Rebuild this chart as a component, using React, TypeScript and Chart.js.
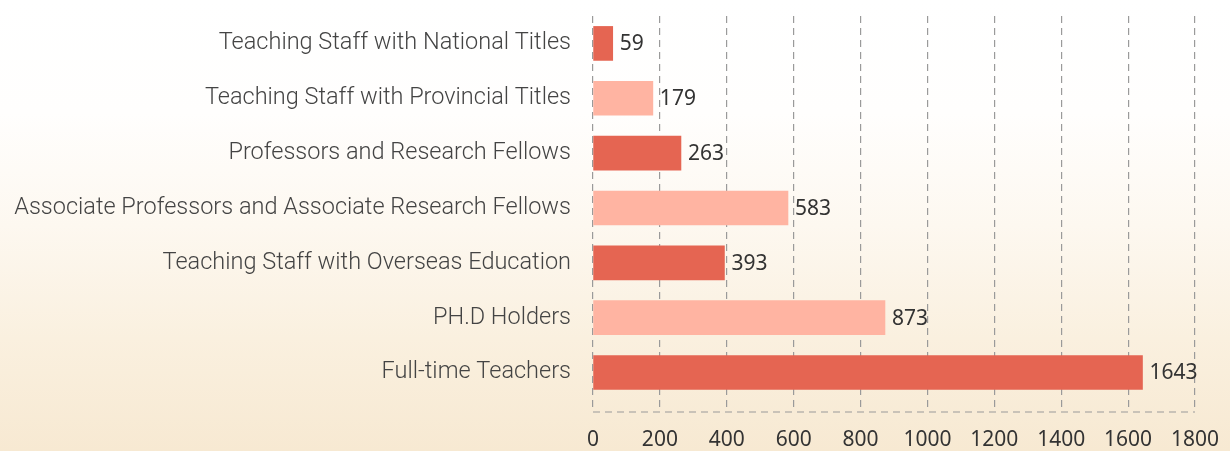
import React, { useEffect, useRef } from "react";
import { Chart, registerables } from "chart.js";

Chart.register(...registerables);

const categories = [
  "Teaching Staff with National Titles",
  "Teaching Staff with Provincial Titles",
  "Professors and Research Fellows",
  "Associate Professors and Associate Research Fellows",
  "Teaching Staff with Overseas Education",
  "PH.D Holders",
  "Full-time Teachers",
];
const values = [59, 179, 263, 583, 393, 873, 1643];
const barColors = ["#E56552", "#FFB4A2", "#E56552", "#FFB4A2", "#E56552", "#FFB4A2", "#E56552"];
const xTicks = [0, 200, 400, 600, 800, 1000, 1200, 1400, 1600, 1800];

const GRID_COLOR = "#9a9a9a";
const DASH = [7, 5];

const valueLabels = {
  id: "valueLabels",
  afterDatasetsDraw(chart: any) {
    const ctx = chart.ctx;
    const meta = chart.getDatasetMeta(0);
    ctx.save();
    ctx.font = "21px 'Noto Sans', 'DejaVu Sans', sans-serif";
    ctx.fillStyle = "#333333";
    ctx.textBaseline = "middle";
    ctx.textAlign = "left";
    meta.data.forEach((el: any, i: number) => {
      ctx.fillText(String(values[i]), el.x + 7, el.y + 1);
    });
    ctx.restore();
  },
};

const dashedBottom = {
  id: "dashedBottom",
  beforeDatasetsDraw(chart: any) {
    const { ctx, chartArea } = chart;
    ctx.save();
    ctx.strokeStyle = GRID_COLOR;
    ctx.lineWidth = 1.2;
    ctx.setLineDash(DASH);
    ctx.beginPath();
    ctx.moveTo(chartArea.left, chartArea.bottom);
    ctx.lineTo(chartArea.right, chartArea.bottom);
    ctx.stroke();
    ctx.restore();
  },
};

export default function App() {
  const ref = useRef<HTMLCanvasElement | null>(null);
  useEffect(() => {
    document.body.style.margin = "0";
    const chart = new Chart(ref.current as HTMLCanvasElement, {
      type: "bar",
      data: {
        labels: categories,
        datasets: [
          {
            data: values,
            backgroundColor: barColors,
            barThickness: 34,
            borderWidth: 0,
          },
        ],
      },
      plugins: [valueLabels, dashedBottom],
      options: {
        indexAxis: "y",
        animation: false,
        responsive: false,
        maintainAspectRatio: false,
        layout: { padding: { top: 16, right: 35, left: 0, bottom: 0 } },
        plugins: { legend: { display: false }, tooltip: { enabled: false } },
        scales: {
          x: {
            type: "linear",
            min: 0,
            max: 1800,
            afterBuildTicks: (scale: any) => {
              scale.ticks = xTicks.map((v) => ({ value: v }));
            },
            afterFit: (scale: any) => {
              scale.height = 39;
              scale.paddingLeft = 0;
              scale.paddingRight = 0;
            },
            grid: {
              display: true,
              color: GRID_COLOR,
              lineWidth: 1.2,
              drawTicks: false,
            },
            border: { display: false, color: GRID_COLOR, width: 1.2, dash: DASH },
            ticks: {
              padding: 15,
              color: "#333333",
              callback: (v: any) => String(v),
              font: { family: "'Noto Sans', 'DejaVu Sans', sans-serif", size: 21 },
            },
          },
          y: {
            type: "category",
            afterBuildTicks: (scale: any) => {
              scale._valueRange = 7.22;
            },
            afterFit: (scale: any) => {
              scale.width = 593;
              scale.paddingTop = 0;
              scale.paddingBottom = 0;
            },
            grid: { display: false, drawTicks: false },
            border: { display: false },
            ticks: {
              padding: 22,
              color: "#444444",
              font: { family: "Roboto, 'Open Sans', sans-serif", size: 23.5, weight: "300" },
            },
          },
        },
      },
    } as any);
    return () => chart.destroy();
  }, []);
  return (
    <div
      style={{
        position: "absolute",
        left: 0,
        top: 0,
        width: 1230,
        height: 451,
        background:
          "linear-gradient(180deg, #ffffff 0%, #fffefd 25%, #fdf8f0 50%, #faf0df 75%, #f7e9d2 100%)",
      }}
    >
      <canvas ref={ref} width={1230} height={451} style={{ display: "block" }} />
    </div>
  );
}
